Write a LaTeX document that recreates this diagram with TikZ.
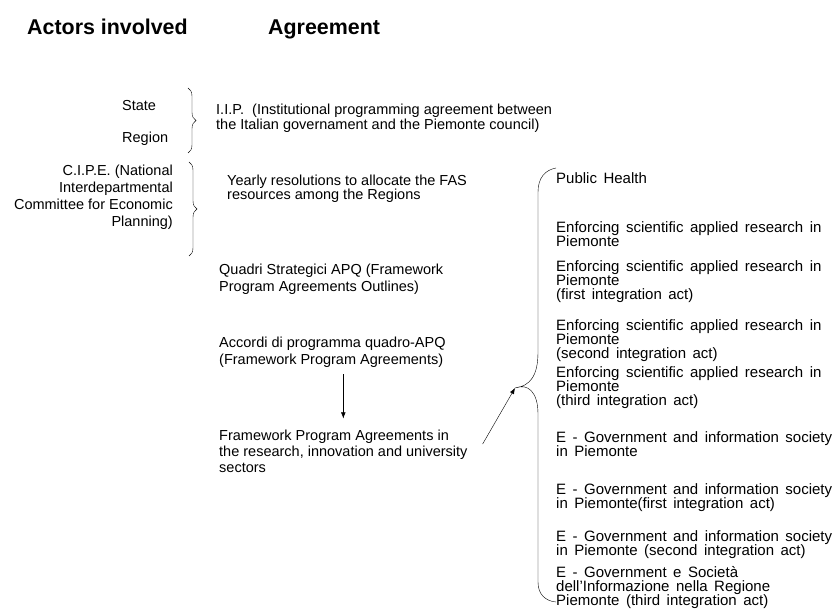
\documentclass[tikz,border=0pt]{standalone}
\usepackage{fontspec}
\setmainfont{Liberation Sans}
\usepackage{tikz}
\usetikzlibrary{positioning,arrows.meta,decorations.pathreplacing}
\tikzset{
    heading/.style={font=\fontsize{21.4}{24}\selectfont\bfseries, inner sep=0pt, anchor=base west},
    actor/.style={font=\fontsize{14.5}{17}\selectfont, inner sep=0pt, align=right, anchor=east},
    agreement/.style={font=\fontsize{14.5}{16}\selectfont, inner sep=0pt, align=left, anchor=west},
    sector/.style={font=\fontsize{15}{14}\selectfont, execute at begin node={\spaceskip=6.5pt plus 1pt\relax\lineskiplimit=-20pt\relax}, inner sep=0pt, align=left, anchor=west},
    group brace/.style={decorate, decoration={brace, amplitude=#1}, thin},
    flow arrow/.style={-{Latex[length=6pt,width=4.5pt]}, thin}
}

\begin{document}
\begin{tikzpicture}[x=1pt, y=-1pt]
    \useasboundingbox (0,0) rectangle (838,609);

    % Column headings
    \node[heading] (H-actors) at (27,35) {Actors involved};
    \node[heading] (H-agree) at (268,35) {Agreement};

    % Actors involved
    \node[agreement] (state) at (122,106) {State};
    \node[agreement] (region) at (122,139) {Region};
    \node[actor] (cipe) at (173,197) {C.I.P.E. (National\\Interdepartmental\\Committee for Economic\\Planning)};

    % Braces between actors and agreements
    \draw[group brace=8pt] (188,88) -- (188,153);
    \draw[group brace=8pt] (189,162) -- (189,256);

    % Agreements
    \node[agreement, font=\fontsize{14.5}{15}\selectfont] (iip) at (216,118) {I.I.P.\ \ (Institutional programming agreement between\\the Italian governament and the Piemonte council)};
    \node[agreement, font=\fontsize{14.5}{14}\selectfont] (yearly) at (227,189) {Yearly resolutions to allocate the FAS\\resources among the Regions};
    \node[agreement, font=\fontsize{14.5}{17}\selectfont] (quadri) at (219,279) {Quadri Strategici APQ (Framework\\Program Agreements Outlines)};
    \node[agreement, font=\fontsize{14.5}{17}\selectfont] (apq) at (219,352) {Accordi di programma quadro-APQ\\(Framework Program Agreements)};
    \node[agreement] (fpa) at (219,451) {Framework Program Agreements in\\the research, innovation and university\\sectors};

    \draw[flow arrow, shorten <=7pt, shorten >=11pt] (apq.south -| fpa.north) -- (fpa.north);

    % Sectors of the framework agreements
    \foreach \y/\txt [count=\i] in {
        178/{Public Health},
        234.6/{Enforcing scientific applied research in\\Piemonte},
        281.2/{Enforcing scientific applied research in\\Piemonte\\(first integration act)},
        340.4/{Enforcing scientific applied research in\\Piemonte\\(second integration act)},
        387.4/{Enforcing scientific applied research in\\Piemonte\\(third integration act)},
        444.1/{E - Government and information society\\in Piemonte},
        497.7/{E - Government and information society\\in Piemonte(first integration act)},
        544.7/{E - Government and information society\\in Piemonte (second integration act)},
        588/{E - Government e Società\\dell'Informazione nella Regione\\Piemonte (third integration act)}} {
        \node[sector] (S-\i) at (556,\y) {\txt};
    }

    % Big brace round the sectors
    \coordinate (brace tip) at (515,388);
    \draw (556,168) .. controls (545,170) and (538,178) .. (538,192) -- (538,352)
        .. controls (538,376) and (530,386) .. (brace tip)
        .. controls (528,383) and (538,392) .. (538,414) -- (538,582)
        .. controls (538,594) and (545,601) .. (556,602);

    % Link from the sector agreements
    \coordinate (fpa link) at ([xshift=15pt,yshift=7pt]fpa.east);
    \draw[flow arrow] (fpa link) -- (brace tip);
\end{tikzpicture}
\end{document}
